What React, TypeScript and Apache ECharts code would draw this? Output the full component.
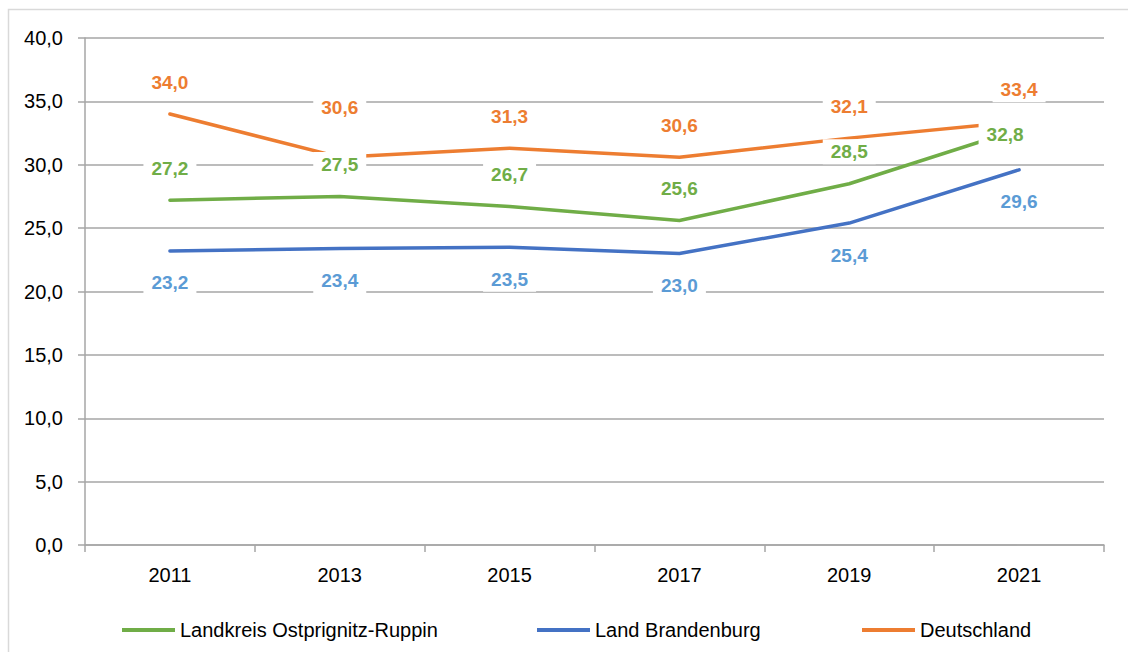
import React, { useEffect, useRef } from "react";
import * as echarts from "echarts";

const categories = ["2011", "2013", "2015", "2017", "2019", "2021"];
const landkreis = [27.2, 27.5, 26.7, 25.6, 28.5, 32.8];
const brandenburg = [23.2, 23.4, 23.5, 23.0, 25.4, 29.6];
const deutschland = [34.0, 30.6, 31.3, 30.6, 32.1, 33.4];
const seriesNames = ["Landkreis Ostprignitz-Ruppin", "Land Brandenburg", "Deutschland"];

const FONT = "'Liberation Sans Narrow', 'Arial Narrow', 'Liberation Sans', Arial, sans-serif";
const fmt = (v: number) => v.toFixed(1).replace(".", ",");

export default function App() {
  const ref = useRef<HTMLDivElement>(null);
  useEffect(() => {
    document.body.style.margin = "0";
    const chart = echarts.init(ref.current!, null, { renderer: "svg" });
    const labelBase = (color: string, position: string) => ({
      show: true,
      position,
      distance: 19,
      color,
      fontFamily: FONT,
      fontSize: 19,
      fontWeight: "bold",
      backgroundColor: "#fff",
      padding: [3, 8],
      formatter: (p: any) => fmt(p.value),
    });
    const mkSeries = (
      name: string,
      data: any[],
      lineColor: string,
      labelColor: string,
      pos: string,
      shifts: Record<number, { dx: number; dy: number }>
    ) => ({
      name,
      type: "line",
      data,
      symbol: "circle",
      symbolSize: 1,
      showSymbol: true,
      itemStyle: { color: lineColor },
      color: lineColor,
      lineStyle: { color: lineColor, width: 3.5, cap: "round" },
      label: labelBase(labelColor, pos),
      labelLayout: (p: any) => {
        const s = shifts[p.dataIndex];
        return s ? { dx: s.dx, dy: s.dy, hideOverlap: false } : { hideOverlap: false };
      },
      emphasis: { disabled: true },
    });
    const legendBase = {
      top: 620,
      padding: 0,
      itemWidth: 53,
      itemHeight: 4,
      itemGap: 5,
      icon: "rect",
      textStyle: { fontFamily: FONT, fontSize: 20, color: "#000", padding: [0, 0, 0, 0] },
    };
    chart.setOption({
      animation: false,
      backgroundColor: "#fff",
      graphic: [
        {
          type: "rect",
          shape: { x: 8.5, y: 9.5, width: 1140, height: 660 },
          style: { fill: "none", stroke: "#D9D9D9", lineWidth: 1.5 },
          silent: true,
        },
      ],
      grid: { left: 85, right: 24, top: 38, bottom: 107 },
      legend: [
        { ...legendBase, left: 122, data: [seriesNames[0]] },
        { ...legendBase, left: 537, data: [seriesNames[1]] },
        { ...legendBase, left: 862, data: [seriesNames[2]] },
      ],
      xAxis: {
        type: "category",
        data: categories,
        boundaryGap: true,
        axisLine: { lineStyle: { color: "#A6A6A6", width: 1.5 } },
        axisTick: { show: true, length: 7, lineStyle: { color: "#A6A6A6", width: 1.5 } },
        axisLabel: { fontFamily: FONT, fontSize: 20, color: "#000", margin: 20 },
        splitLine: { show: false },
      },
      yAxis: {
        type: "value",
        min: 0,
        max: 40,
        interval: 5,
        axisLine: { show: true, lineStyle: { color: "#A6A6A6", width: 1.5 } },
        axisTick: { show: true, length: 7, lineStyle: { color: "#A6A6A6", width: 1.5 } },
        axisLabel: { fontFamily: FONT, fontSize: 20, color: "#000", margin: 22, formatter: (v: number) => fmt(v) },
        splitLine: { show: true, lineStyle: { color: "#A6A6A6", width: 1.5 } },
      },
      series: [
        mkSeries(
          seriesNames[0],
          landkreis.map((v, i) => (i === 5 ? { value: v, label: { padding: [9, 8, 3, 8] } } : v)),
          "#70AD47",
          "#70AD47",
          "top",
          { 5: { dx: -14, dy: 37 } }
        ),
        mkSeries(seriesNames[1], brandenburg, "#4472C4", "#5B9BD5", "bottom", {}),
        mkSeries(seriesNames[2], deutschland, "#ED7D31", "#ED7D31", "top", { 1: { dx: 0, dy: -18 } }),
      ],
    });
    return () => chart.dispose();
  }, []);
  return <div ref={ref} style={{ width: 1128, height: 652 }} />;
}
